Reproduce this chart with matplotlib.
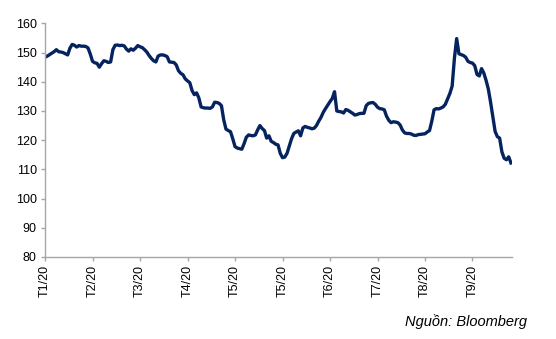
import matplotlib.pyplot as plt
import numpy as np

plt.rcParams['font.family'] = ['Liberation Sans', 'DejaVu Sans']

# daily index level, Jan - Sep 2020
price = [
    148.4, 148.8, 149.3, 149.8, 150.3, 151.0, 150.3, 150.2, 150.0, 149.6,
    149.2, 151.5, 152.8, 152.5, 151.9, 152.4, 152.2, 152.2, 152.1, 151.6,
    149.5, 147.0, 146.5, 146.3, 145.0, 146.2, 147.2, 147.0, 146.6, 146.8,
    151.0, 152.5, 152.6, 152.4, 152.5, 152.3, 151.2, 150.5, 151.3, 150.8,
    151.5, 152.4, 152.0, 151.7, 151.0, 150.2, 149.0, 148.0, 147.2, 146.8,
    148.8, 149.2, 149.2, 149.0, 148.6, 146.8, 146.7, 146.6, 145.8, 143.8,
    142.9, 142.4, 141.0, 140.3, 139.7, 137.0, 135.6, 136.2, 134.5, 131.4,
    131.1, 131.0, 131.0, 130.9, 131.4, 133.0, 132.9, 132.6, 131.8, 127.0,
    123.8, 123.3, 122.9, 120.5, 117.8, 117.3, 117.1, 116.9, 118.8, 121.0,
    121.8, 121.6, 121.5, 121.8, 123.5, 125.0, 124.0, 123.3, 120.7, 121.5,
    119.6, 119.2, 118.6, 118.4, 115.5, 114.0, 114.2, 115.5, 118.0, 120.5,
    122.3, 122.8, 123.2, 121.5, 124.2, 124.7, 124.4, 124.2, 123.9, 124.1,
    125.0, 126.5, 127.8, 129.5, 130.8, 132.0, 133.2, 134.3, 136.6, 130.0,
    129.8, 129.7, 129.3, 130.5, 130.2, 129.7, 129.2, 128.6, 128.8, 129.1,
    129.2, 129.2, 131.8, 132.6, 132.8, 132.9, 132.3, 131.3, 130.8, 130.7,
    130.4, 128.2, 126.8, 126.0, 126.3, 126.2, 126.0, 125.2, 123.5, 122.5,
    122.3, 122.3, 122.1, 121.7, 121.6, 121.9, 122.0, 122.1, 122.2, 122.8,
    123.3, 126.5, 130.4, 130.8, 130.7, 131.0, 131.4, 132.3, 134.2, 136.0,
    138.5, 148.0, 154.8, 149.6, 149.3, 149.0, 148.4, 147.0, 146.6, 146.4,
    145.5, 142.5, 142.0, 144.5, 143.0, 140.5, 137.5, 133.0, 128.0, 123.0,
    121.2, 120.7, 116.0, 113.8, 113.3, 114.3, 112.2,
]
month_labels = ['T1/20', 'T2/20', 'T3/20', 'T4/20', 'T5/20',
                'T5/20', 'T6/20', 'T7/20', 'T8/20', 'T9/20']
days_per_tick = 21

days = np.arange(len(price))
tick_pos = np.arange(len(month_labels)) * days_per_tick

fig = plt.figure(figsize=(5.56, 3.39), dpi=100)
ax = fig.add_axes([0.081, 0.242, 0.84, 0.689])

ax.plot(days, price, color='#05235f', linewidth=2.4)

ax.set_xlim(0, 206.5)
ax.set_ylim(80, 160)
ax.set_yticks(np.arange(80, 161, 10))
ax.set_xticks(tick_pos)
ax.set_xticklabels(month_labels, rotation=90)

for side in ['top', 'right']:
    ax.spines[side].set_visible(False)
for side in ['left', 'bottom']:
    ax.spines[side].set_color('#a6a6a6')
    ax.spines[side].set_linewidth(1.0)
ax.tick_params(which='both', direction='out', length=3, width=1.0,
               color='#a6a6a6', labelsize=9, labelcolor='#000000', pad=3)

fig.text(0.948, 0.05, 'Nguồn: Bloomberg', ha='right', va='center',
         fontsize=10.5, style='italic')

fig.savefig('out.png', dpi=100)
